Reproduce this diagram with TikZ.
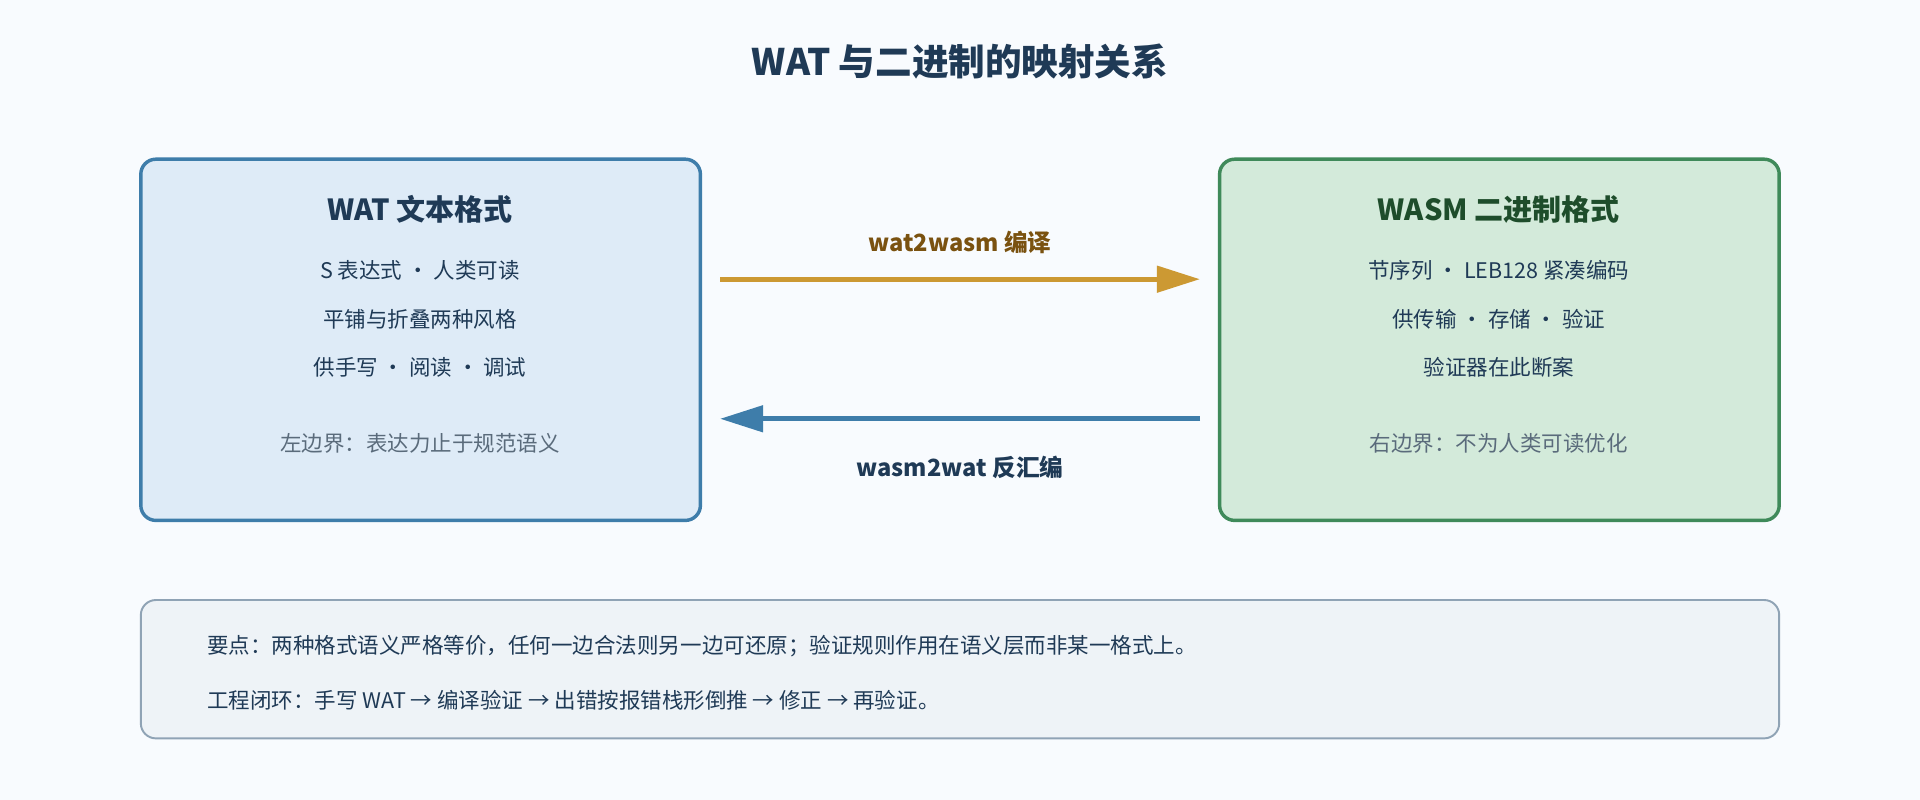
\documentclass[tikz,border=0pt]{standalone}
\usepackage{fontspec}
\setmainfont{Noto Sans CJK SC}
\usetikzlibrary{positioning,arrows.meta}
\definecolor{bgc}{HTML}{F8FBFE}
\definecolor{ink}{HTML}{1F3A56}
\definecolor{leftfill}{HTML}{DEEBF7}
\definecolor{leftline}{HTML}{3E7DAA}
\definecolor{rightfill}{HTML}{D3EADA}
\definecolor{rightline}{HTML}{3F8A5A}
\definecolor{greenink}{HTML}{1E4D2B}
\definecolor{gold}{HTML}{CC9933}
\definecolor{goldink}{HTML}{7A5210}
\definecolor{notefill}{HTML}{EEF3F7}
\definecolor{noteline}{HTML}{8FA3B5}
\definecolor{grayink}{HTML}{5A6B7B}
\tikzset{
  panel/.style={draw, line width=1.6pt, rounded corners=7pt},
  head/.style={font=\bfseries\fontsize{13.5}{16}\selectfont},
  line/.style={font=\fontsize{10}{12}\selectfont, text=ink},
  side/.style={font=\fontsize{10}{12}\selectfont, text=grayink},
  flow/.style={line width=2.4pt, -{Triangle[length=20pt,width=12pt]}},
}
\begin{document}
\begin{tikzpicture}[x=0.02cm,y=-0.02cm]
\useasboundingbox[fill=bgc] (0,0) rectangle (1568,653);
\node[font=\bfseries\fontsize{17}{20}\selectfont, text=ink] (title) at (784,50) {WAT 与二进制的映射关系};

% left panel
\draw[panel, draw=leftline, fill=leftfill] (115,130) rectangle (572,425);
\node[head, text=ink] (wat) at (343,171) {WAT 文本格式};
\node[line] (w1) at (343,221) {S 表达式 · 人类可读};
\node[line] (w2) at (343,261) {平铺与折叠两种风格};
\node[line] (w3) at (343,300) {供手写 · 阅读 · 调试};
\node[side] (w4) at (343,362) {左边界：表达力止于规范语义};

% right panel
\draw[panel, draw=rightline, fill=rightfill] (996,130) rectangle (1453,425);
\node[head, text=greenink] (wasm) at (1224,171) {WASM 二进制格式};
\node[line] (b1) at (1224,221) {节序列 · LEB128 紧凑编码};
\node[line] (b2) at (1224,261) {供传输 · 存储 · 验证};
\node[line] (b3) at (1224,300) {验证器在此断案};
\node[side] (b4) at (1224,362) {右边界：不为人类可读优化};

% arrows
\coordinate (lt) at (588,228);
\coordinate (rt) at (980,228);
\coordinate (lb) at (588,342);
\coordinate (rb) at (980,342);
\draw[flow, draw=gold, color=gold] (lt) -- (rt);
\draw[flow, draw=leftline, color=leftline] (rb) -- (lb);
\node[font=\bfseries\fontsize{11}{13}\selectfont, text=goldink] (comp) at (784,198) {wat2wasm 编译};
\node[font=\bfseries\fontsize{11}{13}\selectfont, text=ink] (dis) at (784,382) {wasm2wat 反汇编};

% note
\draw[draw=noteline, fill=notefill, line width=0.9pt, rounded corners=7pt] (115,490) rectangle (1453,603);
\node[line, anchor=west] (n1) at (163,528) {要点：两种格式语义严格等价，任何一边合法则另一边可还原；验证规则作用在语义层而非某一格式上。};
\node[line, anchor=west] (n2) at (163,572) {工程闭环：手写 WAT → 编译验证 → 出错按报错栈形倒推 → 修正 → 再验证。};
\end{tikzpicture}
\end{document}
